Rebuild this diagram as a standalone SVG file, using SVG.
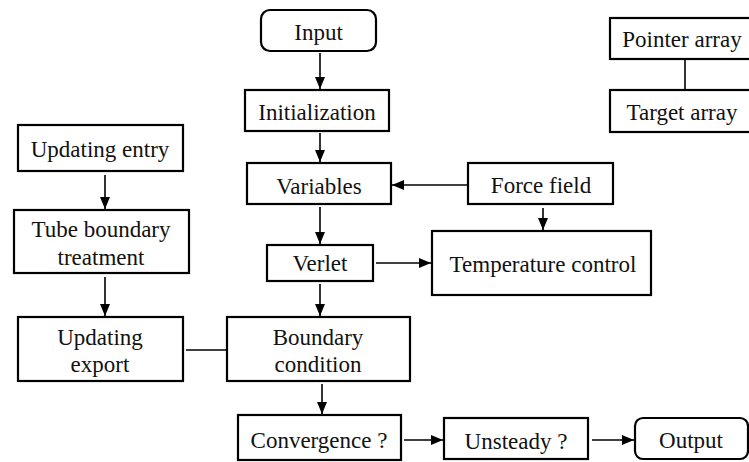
<svg xmlns="http://www.w3.org/2000/svg" width="749" height="462" viewBox="0 0 749 462" font-family="Liberation Serif, serif">
<style>
.box{fill:#fff;stroke:#000;stroke-width:2.2}
.t{font-family:"Liberation Serif",Tinos,"Nimbus Roman","Nimbus Roman No9 L",FreeSerif,"Noto Serif","DejaVu Serif","Times New Roman",serif;font-size:23px;fill:#111;text-anchor:middle}
.c{stroke:#000;stroke-width:1.6;fill:none}
</style>
<defs>
<marker id="ah" markerUnits="userSpaceOnUse" markerWidth="13" markerHeight="11" refX="12" refY="5.5" orient="auto">
<path d="M0,0.5 L12,5.5 L0,10.5 z" fill="#000"/>
</marker>
</defs>
<rect width="749" height="462" fill="#fff"/>
<g id="connectors">
<line class="c" x1="320" y1="53" x2="320" y2="89" marker-end="url(#ah)"/>
<line class="c" x1="320" y1="133" x2="320" y2="162" marker-end="url(#ah)"/>
<line class="c" x1="320" y1="207" x2="320" y2="244" marker-end="url(#ah)"/>
<line class="c" x1="320" y1="284" x2="320" y2="316" marker-end="url(#ah)"/>
<line class="c" x1="322" y1="384" x2="322" y2="414" marker-end="url(#ah)"/>
<line class="c" x1="467" y1="185" x2="392" y2="185" marker-end="url(#ah)"/>
<line class="c" x1="543" y1="208" x2="543" y2="230" marker-end="url(#ah)"/>
<line class="c" x1="376" y1="263" x2="431" y2="263" marker-end="url(#ah)"/>
<line class="c" x1="404" y1="440" x2="443" y2="440" marker-end="url(#ah)"/>
<line class="c" x1="592" y1="440" x2="634" y2="440" marker-end="url(#ah)"/>
<line class="c" x1="105" y1="175" x2="105" y2="209" marker-end="url(#ah)"/>
<line class="c" x1="105" y1="277" x2="105" y2="316" marker-end="url(#ah)"/>
<line class="c" x1="186" y1="350" x2="227" y2="350"/>
<line class="c" x1="685" y1="60" x2="685" y2="90"/>
</g>
<g id="input">
<rect class="box" x="261" y="10" width="115" height="41" rx="9"/>
<text class="t" x="318.5" y="40">Input</text>
</g>
<g id="initialization">
<rect class="box" x="245" y="90" width="144" height="41"/>
<text class="t" x="317" y="120">Initialization</text>
</g>
<g id="variables">
<rect class="box" x="247" y="163" width="144" height="41"/>
<text class="t" x="319" y="194">Variables</text>
</g>
<g id="verlet">
<rect class="box" x="267" y="245" width="106" height="36"/>
<text class="t" x="320" y="271">Verlet</text>
</g>
<g id="boundary-condition">
<rect class="box" x="227" y="317" width="183" height="64"/>
<text class="t" x="318" y="345">Boundary</text>
<text class="t" x="318" y="372">condition</text>
</g>
<g id="convergence">
<rect class="box" x="238" y="415" width="163" height="45"/>
<text class="t" x="319" y="448">Convergence ?</text>
</g>
<g id="unsteady">
<rect class="box" x="444" y="418" width="144" height="41"/>
<text class="t" x="516" y="449">Unsteady ?</text>
</g>
<g id="output">
<rect class="box" x="635" y="418" width="113" height="41" rx="8"/>
<text class="t" x="691" y="448">Output</text>
</g>
<g id="force-field">
<rect class="box" x="468" y="163" width="145" height="41"/>
<text class="t" x="541" y="193">Force field</text>
</g>
<g id="temperature-control">
<rect class="box" x="432" y="231" width="219" height="64"/>
<text class="t" x="543" y="272">Temperature control</text>
</g>
<g id="pointer-array">
<rect class="box" x="610" y="18" width="150" height="41"/>
<text class="t" x="682" y="47">Pointer array</text>
</g>
<g id="target-array">
<rect class="box" x="610" y="90" width="150" height="42"/>
<text class="t" x="682" y="120">Target array</text>
</g>
<g id="updating-entry">
<rect class="box" x="18" y="125" width="165" height="46"/>
<text class="t" x="100" y="157">Updating entry</text>
</g>
<g id="tube-boundary-treatment">
<rect class="box" x="14" y="210" width="175" height="63"/>
<text class="t" x="101" y="237">Tube boundary</text>
<text class="t" x="101" y="265">treatment</text>
</g>
<g id="updating-export">
<rect class="box" x="18" y="317" width="165" height="64"/>
<text class="t" x="100" y="345">Updating</text>
<text class="t" x="100" y="372">export</text>
</g>
</svg>
